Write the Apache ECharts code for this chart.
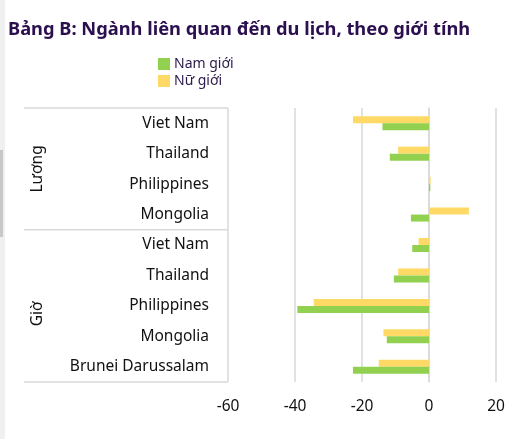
<!DOCTYPE html>
<html><head><meta charset="utf-8">
<script src="https://cdn.jsdelivr.net/npm/echarts@6/dist/echarts.min.js"></script>
<style>html,body{margin:0;padding:0;background:#fff}#c{width:520px;height:439px}</style>
</head><body><div id="c"></div>
<script>
const categories = ['Viet Nam','Thailand','Philippines','Mongolia','Viet Nam','Thailand','Philippines','Mongolia','Brunei Darussalam'];
const groups = [{name:'Lương', count:4},{name:'Giờ', count:5}];
const namGioi = [-13.9,-11.7,0.4,-5.4,-5.0,-10.5,-39.3,-12.6,-22.7];
const nuGioi = [-22.7,-9.2,0.5,11.9,-3.1,-9.2,-34.4,-13.6,-15.0];
const xTicks = [-60,-40,-20,0,20];

const G = {left:228, right:24, top:108, bottom:57};
const W = 520, H = 439;
const plotH = H - G.top - G.bottom;
const rowH = plotH / categories.length;
const boxLeft = 24;

const graphics = [
  {type:'rect', shape:{x:0,y:0,width:5,height:H}, style:{fill:'#f0f0f0'}, silent:true},
  {type:'rect', shape:{x:0,y:150,width:3,height:87}, style:{fill:'#c8c8c8'}, silent:true},
  {type:'line', shape:{x1:boxLeft,y1:G.top,x2:G.left,y2:G.top}, style:{stroke:'#d9d9d9',lineWidth:1.5}},
  {type:'line', shape:{x1:boxLeft,y1:H-G.bottom,x2:G.left,y2:H-G.bottom}, style:{stroke:'#d9d9d9',lineWidth:1.5}}
];
let start = 0;
groups.forEach((g,i)=>{
  const y0 = G.top + start*rowH, y1 = G.top + (start+g.count)*rowH;
  if(i>0) graphics.push({type:'line', shape:{x1:boxLeft,y1:y0,x2:G.left,y2:y0}, style:{stroke:'#d9d9d9',lineWidth:1.5}});
  graphics.push({type:'text', x:38, y:(y0+y1)/2 + (i>0?8:0), rotation:Math.PI/2,
    style:{text:g.name, fill:'#111', font:'15.5px "Noto Sans"', align:'center', verticalAlign:'middle'}});
  start += g.count;
});

const chart = echarts.init(document.getElementById('c'));
chart.setOption({
  animation:false,
  title:{text:'Bảng B: Ngành liên quan đến du lịch, theo giới tính', left:3, top:16,
    textStyle:{fontFamily:'Noto Sans', fontSize:18.3, fontWeight:'bold', color:'#2b0f4f'}},
  legend:{orient:'vertical', left:153, top:52, itemWidth:12, itemHeight:12, itemGap:3, icon:'rect',
    data:['Nam giới','Nữ giới'],
    textStyle:{fontFamily:'Noto Sans', fontSize:14, color:'#2b1a4a', padding:[0,0,0,-1]}},
  grid:{left:G.left, right:G.right, top:G.top, bottom:G.bottom, containLabel:false},
  xAxis:{type:'value', min:-60, max:20, interval:20,
    axisLine:{show:false}, axisTick:{show:false},
    axisLabel:{margin:17, fontFamily:'Noto Sans', fontSize:15.5, color:'#111'},
    splitLine:{lineStyle:{color:'#d9d9d9', width:1.5}}},
  yAxis:{type:'category', data:categories, inverse:true,
    axisLine:{lineStyle:{color:'#d9d9d9', width:1.5}}, axisTick:{show:false},
    axisLabel:{margin:19, fontFamily:'Noto Sans', fontSize:15.5, color:'#111'}},
  series:[
    {name:'Nữ giới', type:'bar', data:nuGioi, barWidth:7, barGap:'0%', itemStyle:{color:'#ffd966'}},
    {name:'Nam giới', type:'bar', data:namGioi, barWidth:7, barGap:'0%', itemStyle:{color:'#92d050'}}
  ],
  graphic:graphics
});
</script></body></html>
